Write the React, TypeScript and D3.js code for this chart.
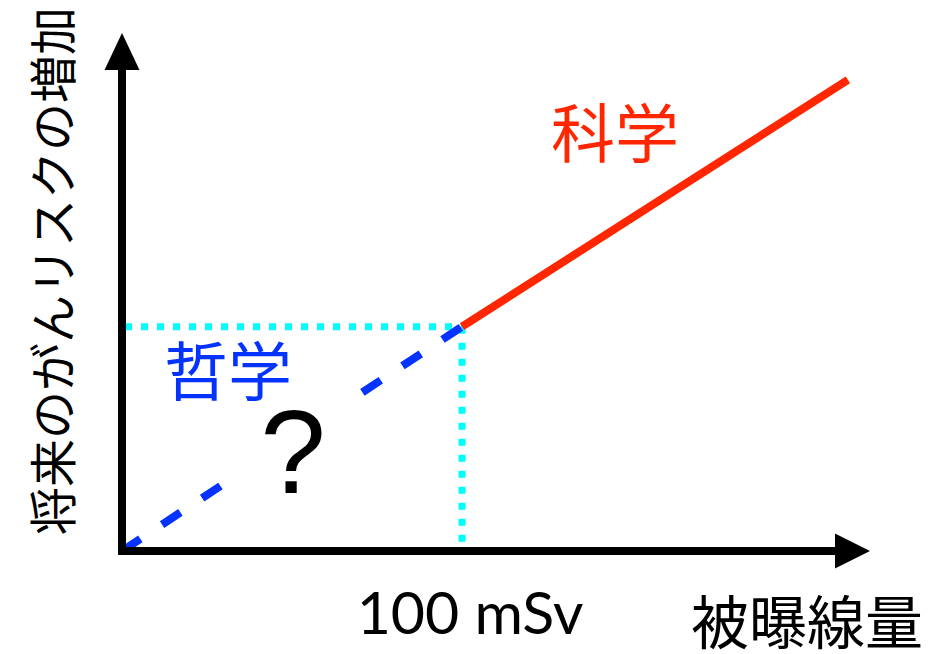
import React from "react";
import * as d3 from "d3";

// Data (dose in mSv, relative risk increase)
const scienceDose = [100, 213.5];
const scienceRisk = [1.0, 2.1];
const philosophyDose = [0, 100];
const philosophyRisk = [0, 1.0];
const thresholdDose = [100];
const thresholdRisk = [1.0];
const xTickLabels = ["100 mSv"];
const xAxisLabel = "被曝線量";
const yAxisLabel = "将来のがんリスクの増加";
const scienceLabel = "科学";
const philosophyLabel = "哲学";
const questionLabel = "?";

const W = 951;
const H = 654;
const CJK = '"Noto Sans CJK JP", "Noto Sans CJK SC", sans-serif';

export default function App() {
  const x = d3.scaleLinear().domain([0, 220]).range([122, 870]);
  const y = d3.scaleLinear().domain([0, 2.3]).range([551, 35]);
  const line = d3
    .line<[number, number]>()
    .x((d) => x(d[0]))
    .y((d) => y(d[1]));

  const sci = scienceDose.map((d, i) => [d, scienceRisk[i]] as [number, number]);
  const phil = philosophyDose.map((d, i) => [d, philosophyRisk[i]] as [number, number]);
  const tx = x(thresholdDose[0]);
  const ty = y(thresholdRisk[0]);
  const x0 = x(0);
  const y0 = y(0);
  const xMax = x(220);
  const yMax = y(2.3);
  const head = 35;
  const hw = 17.5;

  return (
    <svg
      width={W}
      height={H}
      viewBox={`0 0 ${W} ${H}`}
      style={{ position: "absolute", left: 0, top: 0, background: "#fff" }}
    >
      {/* cyan dotted guides */}
      <line
        x1={x0 + 3}
        y1={ty}
        x2={tx + 3}
        y2={ty}
        stroke="#00fdff"
        strokeWidth={7}
        strokeDasharray="7 9"
      />
      <line
        x1={tx}
        y1={ty}
        x2={tx}
        y2={y0 - 3}
        stroke="#00fdff"
        strokeWidth={7}
        strokeDasharray="7 9"
      />
      {/* philosophy dashed line */}
      <path
        d={line(phil) || ""}
        fill="none"
        stroke="#0433ff"
        strokeWidth={8}
        strokeDasharray="22 26"
      />
      {/* white box behind the question mark */}
      <rect x={229} y={399} width={122} height={101} fill="#fff" />
      {/* science line */}
      <path d={line(sci) || ""} fill="none" stroke="#ff2600" strokeWidth={8} />

      {/* axes */}
      <line x1={x0} y1={y0 + 4} x2={x0} y2={yMax + head - 1} stroke="#000" strokeWidth={8} />
      <polygon
        points={`${x0},${yMax - 2} ${x0 - hw},${yMax + head} ${x0 + hw},${yMax + head}`}
        fill="#000"
      />
      <line x1={x0 - 4} y1={y0} x2={xMax - head + 1} y2={y0} stroke="#000" strokeWidth={8} />
      <polygon
        points={`${xMax},${y0} ${xMax - head},${y0 - hw} ${xMax - head},${y0 + hw}`}
        fill="#000"
      />

      {/* labels */}
      <text x={615} y={157} textAnchor="middle" fontFamily={CJK} fontSize={64} fill="#ff2600">
        {scienceLabel}
      </text>
      <text x={228} y={395} textAnchor="middle" fontFamily={CJK} fontSize={64} fill="#0433ff">
        {philosophyLabel}
      </text>
      <text
        x={293}
        y={493}
        textAnchor="middle"
        fontFamily="'Liberation Sans', Arial, sans-serif"
        fontSize={118}
        fill="#000"
      >
        {questionLabel}
      </text>
      <text
        x={470}
        y={634}
        textAnchor="middle"
        fontFamily="Lato, sans-serif"
        fontSize={59}
        fill="#000"
      >
        {xTickLabels[0]}
      </text>
      <text x={807} y={644} textAnchor="middle" fontFamily={CJK} fontSize={58} fill="#000">
        {xAxisLabel}
      </text>
      <text
        transform="translate(71,271) rotate(-90)"
        textAnchor="middle"
        fontFamily={CJK}
        fontSize={48}
        fill="#000"
      >
        {yAxisLabel}
      </text>
    </svg>
  );
}
